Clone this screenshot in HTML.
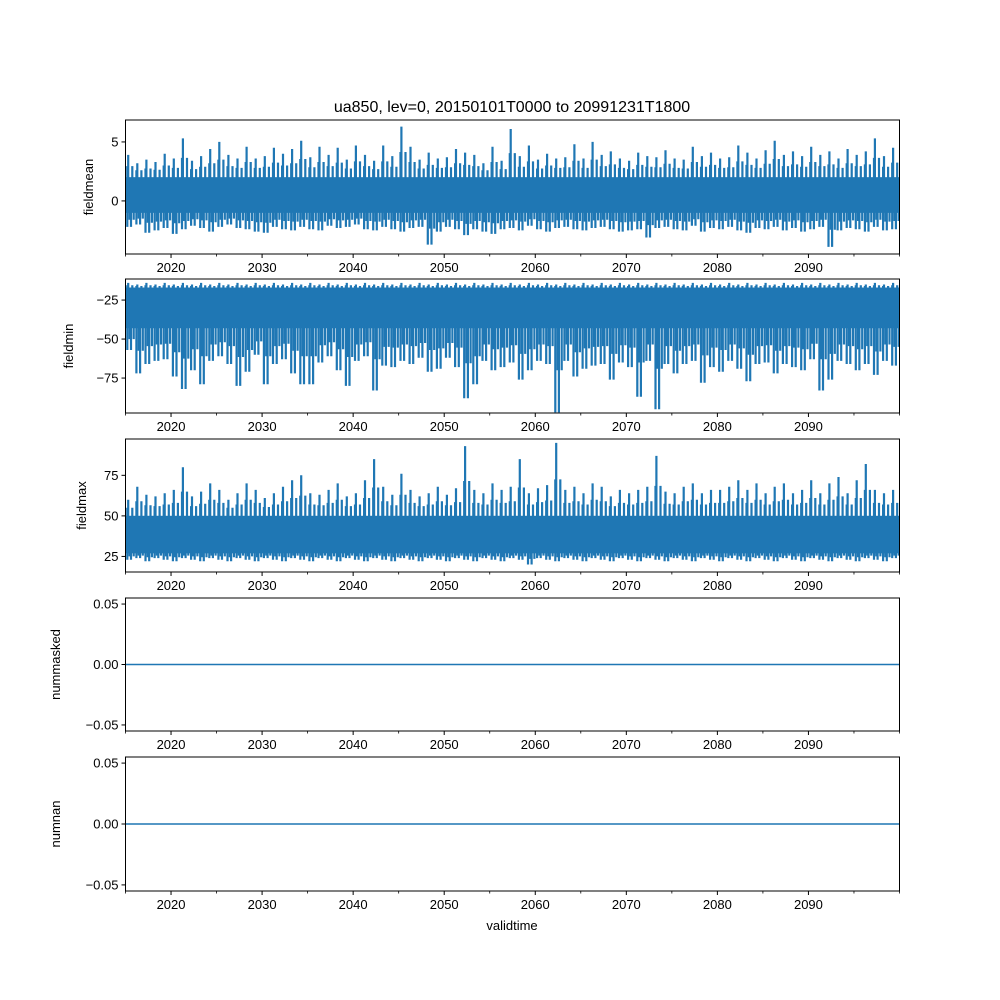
<!DOCTYPE html>
<html><head><meta charset="utf-8">
<style>
body{margin:0;background:#fff;}
svg{display:block;font-family:"Liberation Sans","DejaVu Sans",sans-serif;}
</style></head>
<body>
<svg id="chart" width="1000" height="1000" viewBox="0 0 1000 1000" xmlns="http://www.w3.org/2000/svg">
<rect width="1000" height="1000" fill="#fff"/>
<text x="512" y="112" font-size="16" text-anchor="middle">ua850, lev=0, 20150101T0000 to 20991231T1800</text>
<g id="panels"></g>
<text x="512" y="930" font-size="13" text-anchor="middle">validtime</text>
</svg>
<script>
// data arrays (one value per year 2015..2099)
const years = Array.from({length:85},(_, i)=>2015+i);
const meanMax = [3.9,3.2,3.5,3.3,4.0,3.6,5.3,3.4,3.8,4.4, 5.0,3.9,3.6,4.6,3.6,3.8,4.5,4.0,4.4,5.1, 3.7,4.6,3.9,4.5,3.5,4.7,3.9,3.4,4.7,3.8, 6.3,4.6,3.5,4.1,3.6,3.7,4.4,4.1,3.9,3.2, 4.6,3.4,6.1,3.8,4.7,3.5,4.0,3.6,3.7,4.8, 3.6,5.0,3.9,4.2,3.6,3.4,4.1,3.8,3.7,4.3, 3.6,3.5,4.6,3.8,4.1,3.6,3.7,4.7,4.1,3.6, 4.3,5.1,3.9,4.2,3.8,4.6,3.9,4.2,3.6,4.4, 3.9,4.2,5.3,3.8,4.5];
const meanMin = [-2.2,-2.0,-2.7,-2.5,-2.3,-2.8,-2.4,-2.1,-2.3,-2.6, -2.2,-2.0,-2.3,-2.4,-2.6,-2.7,-2.2,-2.4,-2.5,-2.2, -2.4,-2.5,-2.1,-2.3,-2.2,-2.0,-2.4,-2.5,-2.2,-2.4, -2.6,-2.3,-2.2,-3.7,-2.6,-2.2,-2.4,-2.9,-2.4,-2.6, -2.8,-2.4,-2.3,-2.5,-2.1,-2.4,-2.6,-2.3,-2.2,-2.4, -2.5,-2.3,-2.2,-2.4,-2.6,-2.5,-2.4,-3.1,-2.3,-2.2, -2.4,-2.5,-2.1,-2.6,-2.3,-2.4,-2.2,-2.5,-2.7,-2.3, -2.4,-2.2,-2.5,-2.3,-2.6,-2.4,-2.2,-3.9,-2.5,-2.3, -2.4,-2.6,-2.2,-2.5,-2.4];
const minMin = [-57,-72,-66,-64,-63,-74,-82,-70,-79,-64, -61,-66,-80,-71,-60,-79,-66,-63,-72,-79, -79,-65,-61,-70,-80,-64,-61,-83,-67,-68, -64,-66,-62,-71,-69,-62,-68,-88,-79,-64, -70,-68,-65,-76,-70,-64,-66,-97,-64,-74, -69,-67,-66,-76,-65,-68,-87,-64,-95,-66, -72,-66,-64,-78,-68,-71,-64,-69,-77,-66, -65,-72,-66,-68,-70,-63,-83,-76,-64,-66, -70,-66,-73,-64,-67];
const minMax = [-14,-15,-14,-15,-14,-15,-14,-15,-14,-15, -14,-15,-14,-15,-14,-15,-14,-15,-14,-15, -14,-15,-14,-15,-14,-15,-14,-15,-14,-15, -14,-15,-14,-15,-14,-15,-14,-15,-14,-15, -14,-15,-14,-15,-14,-15,-14,-15,-14,-15, -14,-15,-14,-15,-14,-15,-14,-15,-14,-15, -14,-15,-14,-15,-14,-15,-14,-15,-14,-15, -14,-15,-14,-15,-14,-15,-14,-15,-14,-15, -14,-15,-14,-15,-14];
const maxMax = [60,68,63,62,64,66,80,62,65,70, 66,60,64,70,66,61,64,68,72,75, 64,63,66,70,62,64,72,85,68,63, 76,66,62,64,68,63,67,93,66,64, 70,66,68,85,64,67,69,95,66,68, 64,70,68,62,66,64,66,68,87,65, 64,68,70,64,66,66,68,72,66,70, 64,68,70,64,66,72,64,70,74,64, 72,82,66,64,66];
const maxMin = [23,24,22,24,23,22,24,23,22,24, 23,22,24,23,22,24,23,22,24,23, 22,24,23,22,24,23,22,24,23,22, 24,23,22,24,23,22,24,23,22,24, 23,22,24,23,20,24,23,22,24,23, 22,24,23,22,24,23,22,24,23,22, 24,23,22,24,23,22,24,23,22,24, 23,22,24,23,22,24,23,22,24,23, 22,24,23,22,24];
const xTicks = [2020,2030,2040,2050,2060,2070,2080,2090];
const xMinor = [2015,2025,2035,2045,2055,2065,2075,2085,2095,2100];

const panels = [
 {name:'fieldmean', top:120, bot:254, ymin:-4.5, ymax:6.86, ticks:[5,0], fmt:v=>String(v), hi:meanMax, lo:meanMin, core:[-1.0,2.0], lx:93},
 {name:'fieldmin', top:279, bot:413, ymin:-97.4, ymax:-11.5, ticks:[-25,-50,-75], fmt:v=>String(v).replace('-','−'), hi:minMax, lo:minMin, core:[-43,-17], lx:73},
 {name:'fieldmax', top:439, bot:572, ymin:15.4, ymax:97.4, ticks:[75,50,25], fmt:v=>String(v), hi:maxMax, lo:maxMin, core:[27,50], lx:86},
 {name:'nummasked', top:598, bot:731, ymin:-0.055, ymax:0.055, ticks:[0.05,0,-0.05], fmt:v=>v.toFixed(2).replace('-','−'), flat:true, lx:60},
 {name:'numnan', top:757, bot:891, ymin:-0.055, ymax:0.055, ticks:[0.05,0,-0.05], fmt:v=>v.toFixed(2).replace('-','−'), flat:true, lx:60}
];
const L=125.5, R=899.5, X0=2015, X1=2100;
const NS='http://www.w3.org/2000/svg';
const root=document.getElementById('panels');
function xs(t){return L+(t-X0)/(X1-X0)*(R-L);}
function mk(tag,attrs,parent){const e=document.createElementNS(NS,tag);for(const k in attrs)e.setAttribute(k,attrs[k]);parent.appendChild(e);return e;}
panels.forEach(p=>{
  const ys=v=>p.bot-(v-p.ymin)/(p.ymax-p.ymin)*(p.bot-p.top);
  const g=mk('g',{},root);
  
  
  const cp='clip-'+p.name;
  const c=mk('clipPath',{id:cp},g); mk('rect',{x:L,y:p.top,width:R-L,height:p.bot-p.top},c);
  const sg=mk('g',{'clip-path':'url(#'+cp+')'},g);
  
  
  if(p.flat){
    const ln=mk('line',{x1:L,x2:R,y1:ys(0),y2:ys(0),stroke:'#1f77b4','stroke-width':1.5},sg);
    
    
  } else {
    let d='';
    years.forEach((yr,i)=>{
      const h=p.hi[i], l=p.lo[i];
      const c0=p.core[0], c1=p.core[1];
      const segs=[[0.05,c0,c1],[0.2,l,(c1+h)/2],[0.3,c0,h],[0.45,(c0+l)/2,c1],[0.6,l,c1],[0.75,c0,(h+c1)/2],[0.9,(l+c0)/2,c1]];
      segs.forEach(s=>{const x=xs(yr+s[0]).toFixed(1);d+='M'+x+' '+ys(s[1]).toFixed(1)+'V'+ys(s[2]).toFixed(1);});
    });
    const band=mk('rect',{x:L,y:ys(p.core[1]),width:R-L,height:ys(p.core[0])-ys(p.core[1]),fill:'#1f77b4'},sg);
    
    
    const path=mk('path',{d:d,stroke:'#1f77b4','stroke-width':2.2,fill:'none'},sg);
    
    
  }
  mk('rect',{x:L,y:p.top,width:R-L,height:p.bot-p.top,fill:'none',stroke:'#000','stroke-width':1},g);
  p.ticks.forEach(v=>{
    const y=ys(v);
    mk('line',{x1:L-4,x2:L,y1:y,y2:y,stroke:'#000','stroke-width':1},g);
    const t=mk('text',{x:L-7,y:y+4.5,'font-size':13,'text-anchor':'end'},g);
    t.textContent=p.fmt(v);
    
    
  });
  xTicks.forEach(v=>{
    const x=xs(v);
    mk('line',{x1:x,x2:x,y1:p.bot,y2:p.bot+4,stroke:'#000','stroke-width':1},g);
    const t=mk('text',{x:x,y:p.bot+18,'font-size':13,'text-anchor':'middle'},g);
    t.textContent=String(v);
    
    
  });
  xMinor.forEach(v=>{const x=xs(v);mk('line',{x1:x,x2:x,y1:p.bot,y2:p.bot+2.5,stroke:'#000','stroke-width':0.8},g);});
  const yl=mk('text',{x:0,y:0,'font-size':13,'text-anchor':'middle',transform:'translate('+p.lx+','+((p.top+p.bot)/2)+') rotate(-90)'},g);
  yl.textContent=p.name;
  
  
});
</script>
</body></html>
